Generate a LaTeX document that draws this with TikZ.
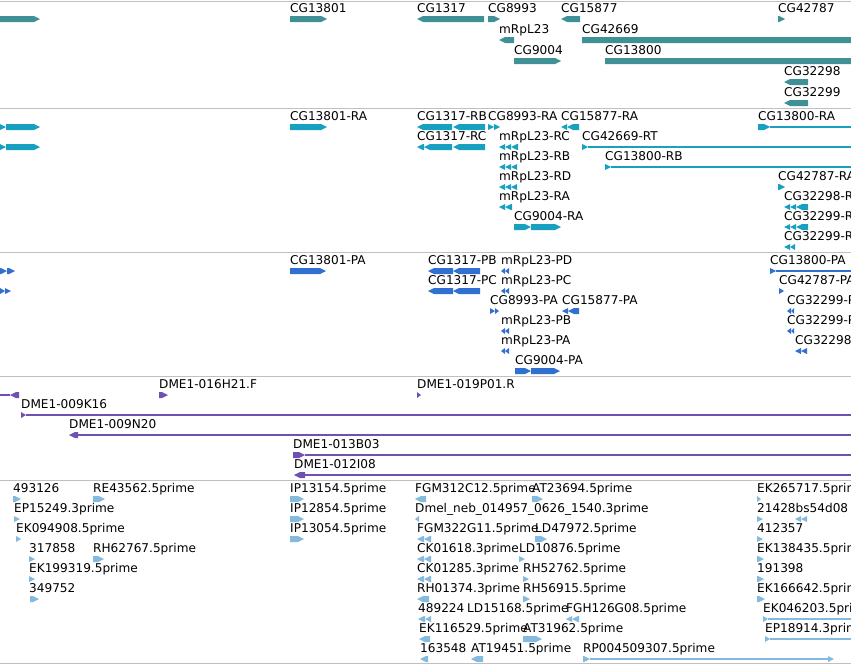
\documentclass[tikz,border=0pt]{standalone}
\usepackage{fontspec}
\setmainfont{DejaVu Sans}
\definecolor{genecol}{RGB}{64,145,150}
\definecolor{txcol}{RGB}{24,160,192}
\definecolor{protcol}{RGB}{48,112,208}
\definecolor{baccol}{RGB}{112,80,176}
\definecolor{estcol}{RGB}{132,186,224}
\definecolor{sepcol}{RGB}{192,192,192}
% block from x1 to x2 on row y, tip on the right / on the left
\newcommand{\fwd}[4]{\fill[#1] (#2,#4-3) -- ({max(#2,#3-6)},#4-3) -- (#3,#4) -- ({max(#2,#3-6)},#4+3) -- (#2,#4+3) -- cycle;}
\newcommand{\rev}[4]{\fill[#1] (#3,#4-3) -- ({min(#3,#2+6)},#4-3) -- (#2,#4) -- ({min(#3,#2+6)},#4+3) -- (#3,#4+3) -- cycle;}
\newcommand{\intron}[4]{\draw[#1,line width=1.2pt] (#2,#4) -- (#3,#4);}
\tikzset{lbl/.style={anchor=base west,inner sep=0pt,font=\fontsize{12.1}{14}\selectfont}}
\begin{document}
\begin{tikzpicture}[x=1pt,y=-1pt]
  \useasboundingbox (0,0) rectangle (851,664);
  \clip (0,0) rectangle (851,664);
  \fill[white] (0,0) rectangle (851,664);
  \foreach \y in {1,108,252,376,480,663}
    \draw[sepcol,line width=1pt] (0,\y) -- (851,\y);

  % genes
  \foreach \a/\b/\y in {0/40/19,290/327/19,488/500/19,778/785/19,514/561/61,582/870/40,605/870/61}
    \fwd{genecol}{\a}{\b}{\y};
  \foreach \a/\b/\y in {417/484/19,561/580/19,499/514/40,784/808/82,784/808/103}
    \rev{genecol}{\a}{\b}{\y};
  \foreach \x/\y/\t in {290/19/CG13801,417/19/CG1317,488/19/CG8993,561/19/CG15877,778/19/CG42787,
      499/40/mRpL23,582/40/CG42669,514/61/CG9004,605/61/CG13800,784/82/CG32298,784/103/CG32299}
    \node[lbl] (g\x-\y) at (\x,\y-6.3) {\t};

  % transcripts
  \foreach \a/\b/\y in {0/6/127,6/40/127,0/6/147,6/40/147,290/327/127,488/494/127,494/500/127,
      758/770/127,582/588/147,605/611/167,778/785/187,514/531/227,531/561/227}
    \fwd{txcol}{\a}{\b}{\y};
  \foreach \a/\b/\y in {417/452/127,453/485/127,561/567/127,567/579/127,
      417/424/147,424/452/147,453/485/147,499/505/147,505/511/147,511/518/147,
      499/505/167,505/511/167,511/517/167,499/505/187,505/511/187,511/517/187,
      499/505/207,505/512/207,784/790/207,790/796/207,796/808/207,
      784/790/227,790/796/227,796/808/227,784/790/247,790/795/247}
    \rev{txcol}{\a}{\b}{\y};
  \foreach \a/\y in {770/127,588/147,611/167}
    \intron{txcol}{\a}{851}{\y};
  \foreach \x/\y/\t in {290/127/CG13801-RA,417/127/CG1317-RB,488/127/CG8993-RA,561/127/CG15877-RA,
      758/127/CG13800-RA,417/147/CG1317-RC,499/147/mRpL23-RC,582/147/CG42669-RT,
      499/167/mRpL23-RB,605/167/CG13800-RB,499/187/mRpL23-RD,778/187/CG42787-RA,
      499/207/mRpL23-RA,784/207/CG32298-RA,514/227/CG9004-RA,784/227/CG32299-RA,784/247/CG32299-RB}
    \node[lbl] (t\x-\y) at (\x,\y-6.3) {\t};

  % proteins
  \foreach \a/\b/\y in {0/7/271,7/15/271,0/5/291,5/11/291,290/326/271,770/776/271,779/784/291,
      490/495/311,495/499/311,515/531/371,531/560/371}
    \fwd{protcol}{\a}{\b}{\y};
  \foreach \a/\b/\y in {428/453/271,453/480/271,428/453/291,453/480/291,
      501/505/271,505/509/271,501/505/291,505/509/291,562/568/311,568/579/311,
      787/791/311,791/794/311,501/505/331,505/509/331,787/791/331,791/794/331,
      501/505/351,505/509/351,795/801/351,801/807/351}
    \rev{protcol}{\a}{\b}{\y};
  \intron{protcol}{776}{851}{271};
  \foreach \x/\y/\t in {290/271/CG13801-PA,428/271/CG1317-PB,501/271/mRpL23-PD,770/271/CG13800-PA,
      428/291/CG1317-PC,501/291/mRpL23-PC,779/291/CG42787-PA,
      490/311/CG8993-PA,562/311/CG15877-PA,787/311/CG32299-PA,
      501/331/mRpL23-PB,787/331/CG32299-PB,501/351/mRpL23-PA,795/351/CG32298-PA,515/371/CG9004-PA}
    \node[lbl] (p\x-\y) at (\x,\y-6.3) {\t};

  % BAC ends
  \foreach \a/\b/\y in {159/168/395,417/421/395,21/26/415,293/305/455}
    \fwd{baccol}{\a}{\b}{\y};
  \foreach \a/\b/\y in {10/19/395,69/78/435,294/305/475}
    \rev{baccol}{\a}{\b}{\y};
  \intron{baccol}{0}{10}{395};
  \foreach \a/\y in {26/415,78/435,305/455,305/475}
    \intron{baccol}{\a}{851}{\y};
  \foreach \x/\y/\t in {159/395/DME1-016H21.F,417/395/DME1-019P01.R,21/415/DME1-009K16,
      69/435/DME1-009N20,293/455/DME1-013B03,294/475/DME1-012I08}
    \node[lbl] (b\x-\y) at (\x,\y-6.3) {\t};

  % ESTs
  \foreach \a/\b/\y in {13/21/499,93/105/499,290/304/499,532/543/499,757/761/499,
      14/20/519,290/304/519,757/763/519,16/21/539,290/304/539,535/547/539,757/763/539,
      29/35/559,93/104/559,519/525/559,757/764/559,29/35/579,523/529/579,757/764/579,
      30/39/599,523/530/599,757/765/599,763/768/619,523/542/639,765/770/639,583/590/659,828/834/659}
    \fwd{estcol}{\a}{\b}{\y};
  \foreach \a/\b/\y in {415/426/499,415/419/519,795/801/519,801/807/519,417/424/539,424/431/539,
      417/424/559,424/431/559,417/424/579,424/431/579,417/429/599,
      418/425/619,425/431/619,566/572/619,572/579/619,419/430/639,420/428/659,471/483/659}
    \rev{estcol}{\a}{\b}{\y};
  \foreach \a/\b/\y in {768/851/619,770/851/639,590/828/659}
    \intron{estcol}{\a}{\b}{\y};
  \foreach \x/\y/\t in {13/499/493126,93/499/RE43562.5prime,290/499/IP13154.5prime,
      415/499/FGM312C12.5prime,532/499/AT23694.5prime,757/499/EK265717.5prime,
      14/519/EP15249.3prime,290/519/IP12854.5prime,415/519/Dmel\_neb\_014957\_0626\_1540.3prime,
      757/519/21428bs54d08,16/539/EK094908.5prime,290/539/IP13054.5prime,
      417/539/FGM322G11.5prime,535/539/LD47972.5prime,757/539/412357,
      29/559/317858,93/559/RH62767.5prime,417/559/CK01618.3prime,519/559/LD10876.5prime,
      757/559/EK138435.5prime,29/579/EK199319.5prime,417/579/CK01285.3prime,
      523/579/RH52762.5prime,757/579/191398,29/599/349752,417/599/RH01374.3prime,
      523/599/RH56915.5prime,757/599/EK166642.5prime,418/619/489224,467/619/LD15168.5prime,
      566/619/FGH126G08.5prime,763/619/EK046203.5prime,419/639/EK116529.5prime,
      523/639/AT31962.5prime,765/639/EP18914.3prime,420/659/163548,471/659/AT19451.5prime,
      583/659/RP004509307.5prime}
    \node[lbl] (e\x-\y) at (\x,\y-6.3) {\t};
\end{tikzpicture}
\end{document}
